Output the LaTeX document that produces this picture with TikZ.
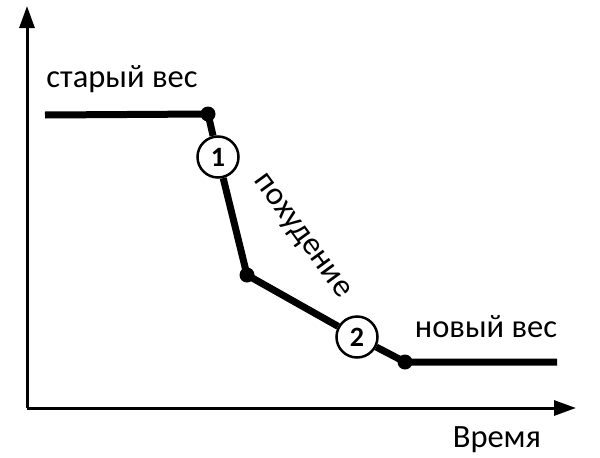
\documentclass[tikz,border=0pt]{standalone}
\usepackage{fontspec}
\setmainfont{Carlito}
\usetikzlibrary{arrows.meta}

\tikzset{
  axis/.style={line width=3pt, -{Triangle[length=22pt,width=15pt]}},
  curve/.style={line width=7pt},
  dot/.style={circle, fill=black, inner sep=0pt, minimum size=15pt},
  num/.style={circle, draw, line width=2.5pt, fill=white, inner sep=0pt,
    minimum size=41pt, font=\fontsize{28}{28}\selectfont\bfseries},
  lbl/.style={font=\fontsize{32.5}{32.5}\selectfont}
}

\begin{document}
\begin{tikzpicture}[x=1pt, y=-1pt]
    \useasboundingbox (0, 0) rectangle (600, 458);

    % axes
    \coordinate (o) at (27, 408);
    \coordinate (ytop) at (27, 6);
    \coordinate (xend) at (576, 408);
    \draw [axis] (o) -- (ytop);
    \draw [axis] (o) -- (xend);

    % weight curve
    \coordinate (s) at (45, 115);
    \coordinate (e) at (557, 362);
    \node [dot] (a) at (208, 114) {};
    \node [num] (n1) at (218, 157) {1};
    \node [dot] (b) at (247, 275) {};
    \node [num] (n2) at (357, 337) {2};
    \node [dot] (c) at (405, 362) {};
    \draw [curve] (s) -- (a.center) -- (n1) -- (b.center) -- (n2) -- (c.center) -- (e);

    \node [lbl] (old) at (122, 79) {старый вес};
    \node [lbl] (new) at (486, 327) {новый вес};
    \node [lbl] (time) at (497, 440) {Время};
    \node [lbl, rotate=-54] (loss) at (301, 237) {похудение};
  \end{tikzpicture}
\end{document}
